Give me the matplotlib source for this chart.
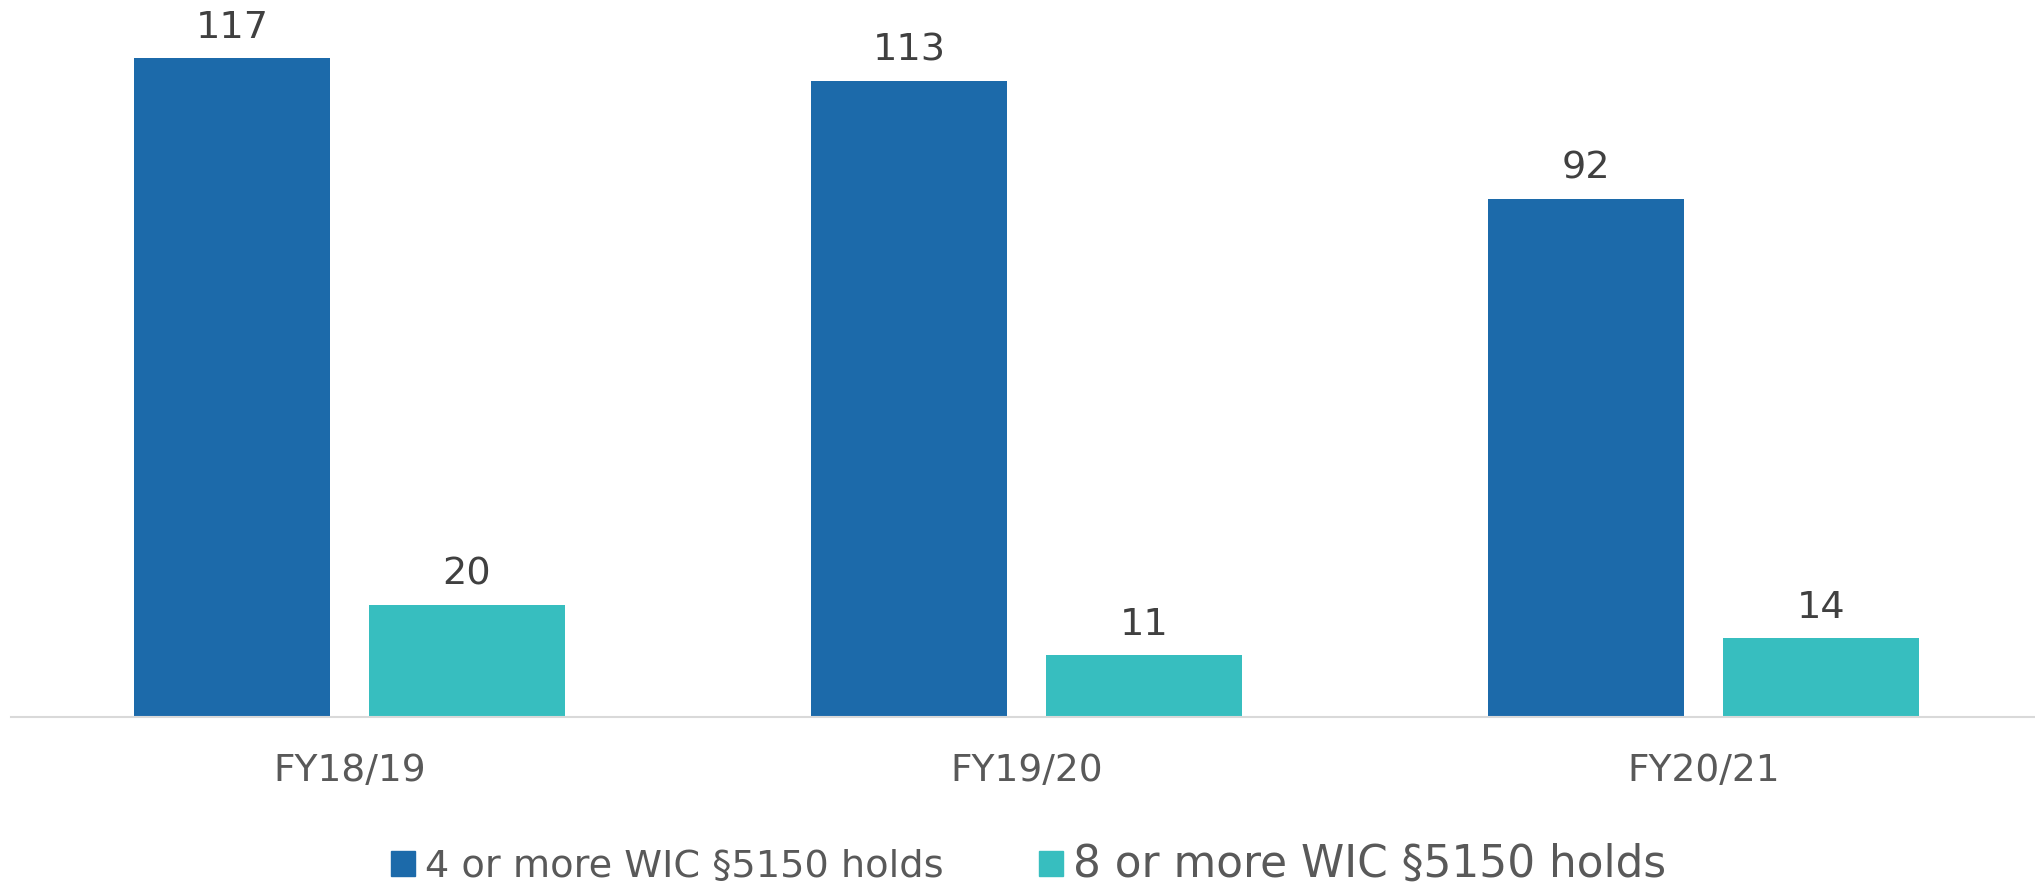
import matplotlib
matplotlib.use("Agg")
import matplotlib.pyplot as plt
from matplotlib.patches import Patch

categories = ["FY18/19", "FY19/20", "FY20/21"]
series_names = ["4 or more WIC §5150 holds", "8 or more WIC §5150 holds"]
holds_4_plus = [117, 113, 92]
holds_8_plus = [20, 11, 14]

BLUE = "#1C6AAA"
TEAL = "#37BEBF"

W, H = 2035, 888
fig = plt.figure(figsize=(W / 100, H / 100), dpi=100)
ax = fig.add_axes([11 / W, (H - 717.3) / H, 1 - 11 / W, 717.3 / H])

x = list(range(len(categories)))
bw = 0.2895
off = 0.1735
b1 = ax.bar([i - off for i in x], holds_4_plus, width=bw, color=BLUE)
b2 = ax.bar([i + off for i in x], holds_8_plus, width=bw, color=TEAL)

for bars, vals in ((b1, holds_4_plus), (b2, holds_8_plus)):
    for rect, v in zip(bars, vals):
        ax.annotate(str(v), (rect.get_x() + rect.get_width() / 2, v),
                    xytext=(0, 14.4), textcoords="offset points",
                    ha="center", va="baseline", fontsize=27.5, color="#404040")

ax.set_xlim(-0.5, 2.49)
ax.set_ylim(0, 127.3)
ax.set_xticks(x)
ax.set_xticklabels(categories, fontsize=27, color="#595959")
ax.tick_params(axis="x", length=0, pad=26)
ax.set_yticks([])
for s in ("top", "right", "left"):
    ax.spines[s].set_visible(False)
ax.spines["bottom"].set_color("#D9D9D9")
ax.spines["bottom"].set_linewidth(1.5)

handles = [Patch(color=BLUE), Patch(color=TEAL)]
leg = fig.legend(handles, series_names, loc="center", bbox_to_anchor=(1028.5 / W, 1 - 864 / H),
                 ncol=2, frameon=False, fontsize=27.5, borderpad=0,
                 handlelength=0.63, handleheight=0.63, handletextpad=0.25,
                 columnspacing=2.5)
for t in leg.get_texts():
    t.set_color("#595959")
leg.get_texts()[1].set_fontsize(31.5)

fig.savefig("out.png", dpi=100)
